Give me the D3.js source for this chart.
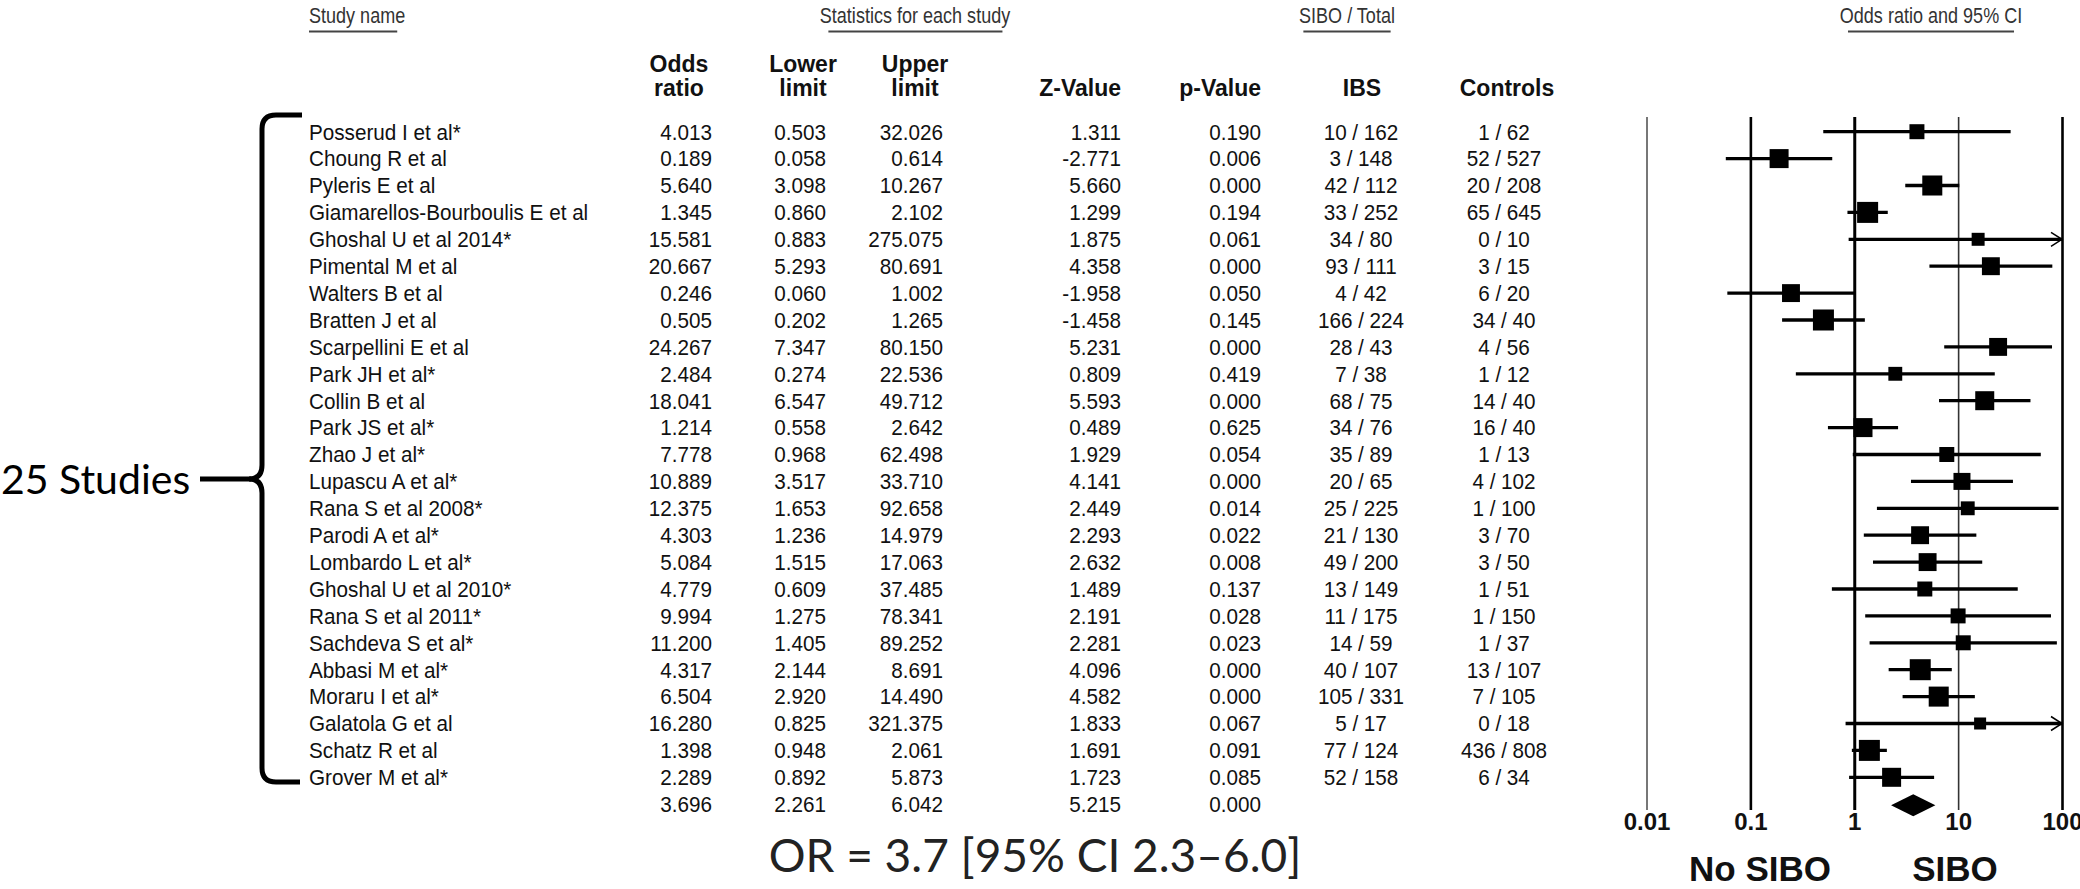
<!DOCTYPE html>
<html><head><meta charset="utf-8">
<script src="https://cdn.jsdelivr.net/npm/d3@7"></script>
<style>
body{margin:0;background:#fff}
svg{display:block}
</style>
</head><body>
<svg id="chart" width="2080" height="889"></svg>
<script>
// ---------------- DATA ----------------
const studies = ["Posserud I et al*","Choung R et al","Pyleris E et al","Giamarellos-Bourboulis E et al",
  "Ghoshal U et al 2014*","Pimental M et al","Walters B et al","Bratten J et al","Scarpellini E et al",
  "Park JH et al*","Collin B et al","Park JS et al*","Zhao J et al*","Lupascu A et al*","Rana S et al 2008*",
  "Parodi A et al*","Lombardo L et al*","Ghoshal U et al 2010*","Rana S et al 2011*","Sachdeva S et al*",
  "Abbasi M et al*","Moraru I et al*","Galatola G et al","Schatz R et al","Grover M et al*"];
const oddsRatio = [4.013,0.189,5.640,1.345,15.581,20.667,0.246,0.505,24.267,2.484,18.041,1.214,7.778,
  10.889,12.375,4.303,5.084,4.779,9.994,11.200,4.317,6.504,16.280,1.398,2.289];
const lowerLimit = [0.503,0.058,3.098,0.860,0.883,5.293,0.060,0.202,7.347,0.274,6.547,0.558,0.968,
  3.517,1.653,1.236,1.515,0.609,1.275,1.405,2.144,2.920,0.825,0.948,0.892];
const upperLimit = [32.026,0.614,10.267,2.102,275.075,80.691,1.002,1.265,80.150,22.536,49.712,2.642,62.498,
  33.710,92.658,14.979,17.063,37.485,78.341,89.252,8.691,14.490,321.375,2.061,5.873];
const zValue = [1.311,-2.771,5.660,1.299,1.875,4.358,-1.958,-1.458,5.231,0.809,5.593,0.489,1.929,
  4.141,2.449,2.293,2.632,1.489,2.191,2.281,4.096,4.582,1.833,1.691,1.723];
const pValue = [0.190,0.006,0.000,0.194,0.061,0.000,0.050,0.145,0.000,0.419,0.000,0.625,0.054,
  0.000,0.014,0.022,0.008,0.137,0.028,0.023,0.000,0.000,0.067,0.091,0.085];
const ibsSIBO  = [10,3,42,33,34,93,4,166,28,7,68,34,35,20,25,21,49,13,11,14,40,105,5,77,52];
const ibsTotal = [162,148,112,252,80,111,42,224,43,38,75,76,89,65,225,130,200,149,175,59,107,331,17,124,158];
const ctrlSIBO  = [1,52,20,65,0,3,6,34,4,1,14,16,1,4,1,3,3,1,1,1,13,7,0,436,6];
const ctrlTotal = [62,527,208,645,10,15,20,40,56,12,40,40,13,102,100,70,50,51,150,37,107,105,18,808,34];
// relative study weights (box area)
const weights = [2.8,4.5,5.0,5.5,2.1,4.0,4.0,5.5,4.0,2.4,4.5,4.5,2.8,3.6,2.4,4.0,4.0,2.8,2.8,2.8,5.5,5.0,1.8,5.5,4.5];
// pooled estimate
const pooledOR = 3.696, pooledLower = 2.261, pooledUpper = 6.042, pooledZ = 5.215, pooledP = 0.000;
// axis
const tickValues = [0.01, 0.1, 1, 10, 100];
const tickLabels = ["0.01", "0.1", "1", "10", "100"];
const sectionTitles = ["Study name", "Statistics for each study", "SIBO / Total", "Odds ratio and 95% CI"];
const colHeaders = [["Odds","ratio"],["Lower","limit"],["Upper","limit"],["Z-Value"],["p-Value"],["IBS"],["Controls"]];
const summaryText = "OR = 3.7 [95% CI 2.3\u20136.0]";
const bracketText = "25 Studies";
const sideLabels = ["No SIBO", "SIBO"];

// ---------------- LAYOUT ----------------
const svg = d3.select("#chart");
const FONT = "'Liberation Sans', Arial, sans-serif";
const nRows = studies.length;
const y = d3.scaleLinear().domain([0, nRows]).range([131.7, 131.7 + nRows * 26.9]);
const x = d3.scaleLog().domain([0.01, 100]).range([1646.5, 2062]);
const box = d3.scaleSqrt().domain([0, 5.5]).range([0, 21]);
const fmt = v => v.toFixed(3);
const SX = 0.94;   // condensed look of the table font

const g = svg.append("g").attr("font-family", FONT).attr("fill", "#000");

// section titles with underline
const TSX = 0.82;
const titlePos = [{x:309, anchor:"start"}, {x:915, anchor:"middle"}, {x:1347, anchor:"middle"}, {x:1931, anchor:"middle"}];
sectionTitles.forEach((t, i) => {
  const tx = g.append("text").attr("transform", `translate(${titlePos[i].x},23) scale(${TSX},1)`)
    .attr("text-anchor", titlePos[i].anchor).attr("font-size", 22).attr("fill", "#333").text(t);
  const bb = tx.node().getBBox();
  const w = bb.width * TSX, x0 = titlePos[i].x + bb.x * TSX;
  const inset = i === 0 ? 0 : w * 0.045;
  g.append("line").attr("x1", x0 + inset).attr("x2", x0 + w - (i === 0 ? 8 : inset))
    .attr("y1", 31.5).attr("y2", 31.5).attr("stroke", "#444").attr("stroke-width", 2);
});

// column headers
const headerX = [679, 803, 915, 1121, 1261, 1362, 1507];
const headerAnchor = ["middle","middle","middle","end","end","middle","middle"];
colHeaders.forEach((lines, i) => {
  lines.forEach((ln, k) => {
    const by = lines.length === 2 ? (k === 0 ? 72 : 96) : 96;
    g.append("text").attr("x", headerX[i]).attr("y", by).attr("text-anchor", headerAnchor[i])
      .attr("font-size", 23).attr("font-weight", "bold").attr("fill", "#111").text(ln);
  });
});

// table rows
const rows = g.append("g").attr("font-size", 22).attr("fill", "#111");
const base = i => y(i) + 7.8;
const place = (xx, i) => `translate(${xx},${base(i)}) scale(${SX},1)`;
rows.selectAll("text.name").data(studies).join("text").attr("class","name")
  .attr("transform", (d, i) => place(309, i)).text(d => d);
const numCols = [
  {vals: oddsRatio, x: 712}, {vals: lowerLimit, x: 826}, {vals: upperLimit, x: 943},
  {vals: zValue, x: 1121}, {vals: pValue, x: 1261}
];
numCols.forEach(c => {
  rows.append("g").selectAll("text").data(c.vals).join("text")
    .attr("transform", (d, i) => place(c.x, i)).attr("text-anchor", "end").text(d => fmt(d));
});
rows.append("g").selectAll("text").data(ibsSIBO).join("text")
  .attr("transform", (d, i) => place(1361, i)).attr("text-anchor", "middle")
  .text((d, i) => d + " / " + ibsTotal[i]);
rows.append("g").selectAll("text").data(ctrlSIBO).join("text")
  .attr("transform", (d, i) => place(1504, i)).attr("text-anchor", "middle")
  .text((d, i) => d + " / " + ctrlTotal[i]);
// pooled row
[pooledOR, pooledLower, pooledUpper, pooledZ, pooledP].forEach((v, k) => {
  rows.append("text").attr("transform", place(numCols[k].x, nRows)).attr("text-anchor", "end").text(fmt(v));
});

// ---------------- FOREST PLOT ----------------
const axisY = 810;
const axis = d3.axisBottom(x).tickValues(tickValues).tickFormat((d, i) => tickLabels[i])
  .tickSizeInner(-(axisY - 117)).tickSizeOuter(0).tickPadding(3);
const ax = svg.append("g").attr("transform", `translate(0,${axisY})`).call(axis);
ax.select(".domain").remove();
const tickW = [1.6, 2.6, 3, 1.6, 2.6];
const tickC = ["#555", "#000", "#000", "#333", "#000"];
ax.selectAll(".tick line").attr("stroke", (d, i) => tickC[i]).attr("stroke-width", (d, i) => tickW[i]);
ax.selectAll(".tick text").attr("font-family", FONT).attr("font-size", 24).attr("font-weight", "bold")
  .attr("fill", "#111");

const fp = svg.append("g");
const idx = d3.range(nRows);
const xMax = x.domain()[1], xMin = x.domain()[0];
fp.selectAll("line.ci").data(idx).join("line").attr("class", "ci")
  .attr("x1", i => x(Math.max(lowerLimit[i], xMin))).attr("x2", i => x(Math.min(upperLimit[i], xMax)))
  .attr("y1", i => y(i)).attr("y2", i => y(i)).attr("stroke", "#000").attr("stroke-width", 3.3);
// arrows for truncated intervals
fp.selectAll("path.arrow").data(idx.filter(i => upperLimit[i] > xMax)).join("path").attr("class", "arrow")
  .attr("d", i => `M${x(xMax) - 11},${y(i) - 7} L${x(xMax)},${y(i)} L${x(xMax) - 11},${y(i) + 7}`)
  .attr("fill", "none").attr("stroke", "#000").attr("stroke-width", 1.5);
fp.selectAll("rect.box").data(idx).join("rect").attr("class", "box")
  .attr("x", i => x(oddsRatio[i]) - box(weights[i]) / 2).attr("y", i => y(i) - box(weights[i]) / 2)
  .attr("width", i => box(weights[i])).attr("height", i => box(weights[i])).attr("fill", "#000");
// pooled diamond
const yd = y(nRows) + 1;
fp.append("path")
  .attr("d", `M${x(pooledLower)},${yd} L${x(pooledOR)},${yd - 11} L${x(pooledUpper)},${yd} L${x(pooledOR)},${yd + 11} Z`)
  .attr("fill", "#000");

// side labels
[1760, 1955].forEach((cx, k) => {
  svg.append("text").attr("x", cx).attr("y", 881).attr("text-anchor", "middle")
    .attr("font-family", FONT).attr("font-size", 35).attr("font-weight", "bold").attr("fill", "#111")
    .text(sideLabels[k]);
});

// ---------------- ANNOTATIONS ----------------
const CAL = "Lato, 'Open Sans', sans-serif";
const midY = 479;
svg.append("text").attr("x", 1).attr("y", midY + 15).attr("font-family", CAL).attr("font-size", 41)
  .attr("fill", "#000").text(bracketText);
svg.append("path")
  .attr("d", `M302,115 L276,115 Q262,115 262,129 L262,${midY - 14} Q262,${midY} 249,${midY} Q262,${midY} 262,${midY + 14} L262,768 Q262,782 276,782 L300,782`)
  .attr("fill", "none").attr("stroke", "#000").attr("stroke-width", 5);
svg.append("line").attr("x1", 200).attr("x2", 251).attr("y1", midY).attr("y2", midY)
  .attr("stroke", "#000").attr("stroke-width", 5);
svg.append("text").attr("x", 1035).attr("y", 872).attr("text-anchor", "middle").attr("font-family", CAL)
  .attr("font-size", 46).attr("fill", "#222").text(summaryText);
</script>
</body></html>
